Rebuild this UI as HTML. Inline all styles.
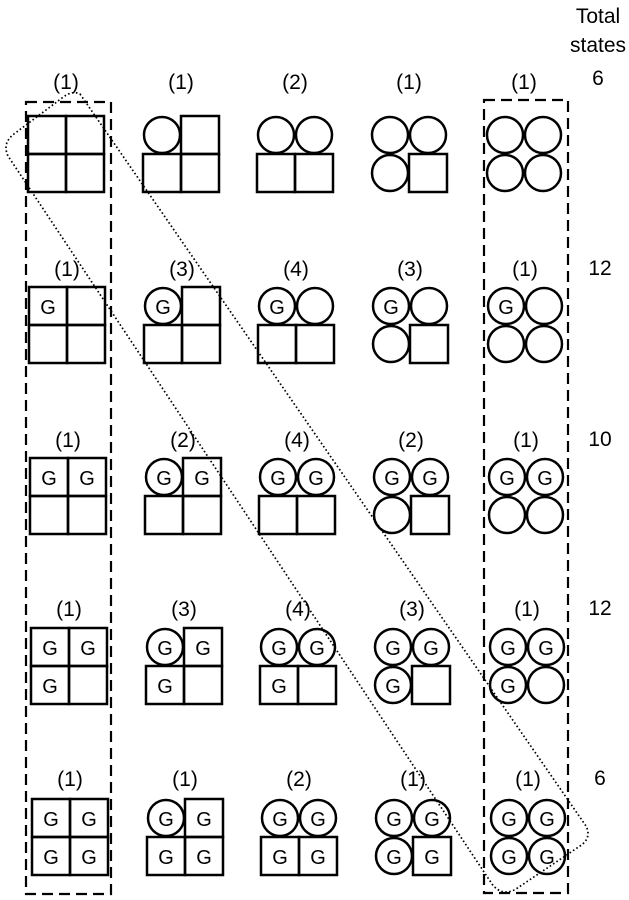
<!DOCTYPE html>
<html><head><meta charset="utf-8"><style>
html,body{margin:0;padding:0;background:#fff;}
svg{display:block;}
text{font-family:"Liberation Sans",Arial,sans-serif;fill:#000;}
</style></head><body>
<svg width="629" height="900" viewBox="0 0 629 900" xmlns="http://www.w3.org/2000/svg">
<defs>
<rect id="s" x="0" y="0" width="38" height="38" fill="none" stroke="#000" stroke-width="2.5"/>
<circle id="c" cx="19" cy="19" r="18" fill="none" stroke="#000" stroke-width="2.5"/>
</defs>
<g font-size="21" text-anchor="middle">
<text x="598" y="23">Total</text>
<text x="598" y="52">states</text>
<text x="598" y="85">6</text>
<text x="600" y="275">12</text>
<text x="600" y="446">10</text>
<text x="600" y="615">12</text>
<text x="600" y="785">6</text>
</g>
<g font-size="21" text-anchor="middle">
<text x="66" y="89">(1)</text><text x="181" y="89">(1)</text><text x="295" y="89">(2)</text><text x="409" y="89">(1)</text><text x="524" y="89">(1)</text>
<text x="67" y="276">(1)</text><text x="182" y="276">(3)</text><text x="296" y="276">(4)</text><text x="410" y="276">(3)</text><text x="525" y="276">(1)</text>
<text x="68" y="447">(1)</text><text x="183" y="447">(2)</text><text x="297" y="447">(4)</text><text x="411" y="447">(2)</text><text x="526" y="447">(1)</text>
<text x="69" y="616">(1)</text><text x="184" y="616">(3)</text><text x="298" y="616">(4)</text><text x="412" y="616">(3)</text><text x="527" y="616">(1)</text>
<text x="70" y="786">(1)</text><text x="185" y="786">(1)</text><text x="299" y="786">(2)</text><text x="413" y="786">(1)</text><text x="528" y="786">(1)</text>
</g>
<use href="#s" x="28" y="116"/><use href="#s" x="66" y="116"/><use href="#s" x="28" y="154"/><use href="#s" x="66" y="154"/>
<use href="#c" x="143" y="116"/><use href="#s" x="181" y="116"/><use href="#s" x="143" y="154"/><use href="#s" x="181" y="154"/>
<use href="#c" x="257" y="116"/><use href="#c" x="295" y="116"/><use href="#s" x="257" y="154"/><use href="#s" x="295" y="154"/>
<use href="#c" x="371" y="116"/><use href="#c" x="409" y="116"/><use href="#c" x="371" y="154"/><use href="#s" x="409" y="154"/>
<use href="#c" x="486" y="116"/><use href="#c" x="524" y="116"/><use href="#c" x="486" y="154"/><use href="#c" x="524" y="154"/>
<use href="#s" x="29" y="287"/><use href="#s" x="67" y="287"/><use href="#s" x="29" y="325"/><use href="#s" x="67" y="325"/>
<use href="#c" x="144" y="287"/><use href="#s" x="182" y="287"/><use href="#s" x="144" y="325"/><use href="#s" x="182" y="325"/>
<use href="#c" x="258" y="287"/><use href="#c" x="296" y="287"/><use href="#s" x="258" y="325"/><use href="#s" x="296" y="325"/>
<use href="#c" x="372" y="287"/><use href="#c" x="410" y="287"/><use href="#c" x="372" y="325"/><use href="#s" x="410" y="325"/>
<use href="#c" x="487" y="287"/><use href="#c" x="525" y="287"/><use href="#c" x="487" y="325"/><use href="#c" x="525" y="325"/>
<use href="#s" x="30" y="458"/><use href="#s" x="68" y="458"/><use href="#s" x="30" y="496"/><use href="#s" x="68" y="496"/>
<use href="#c" x="145" y="458"/><use href="#s" x="183" y="458"/><use href="#s" x="145" y="496"/><use href="#s" x="183" y="496"/>
<use href="#c" x="259" y="458"/><use href="#c" x="297" y="458"/><use href="#s" x="259" y="496"/><use href="#s" x="297" y="496"/>
<use href="#c" x="373" y="458"/><use href="#c" x="411" y="458"/><use href="#c" x="373" y="496"/><use href="#s" x="411" y="496"/>
<use href="#c" x="488" y="458"/><use href="#c" x="526" y="458"/><use href="#c" x="488" y="496"/><use href="#c" x="526" y="496"/>
<use href="#s" x="31" y="628"/><use href="#s" x="69" y="628"/><use href="#s" x="31" y="666"/><use href="#s" x="69" y="666"/>
<use href="#c" x="146" y="628"/><use href="#s" x="184" y="628"/><use href="#s" x="146" y="666"/><use href="#s" x="184" y="666"/>
<use href="#c" x="260" y="628"/><use href="#c" x="298" y="628"/><use href="#s" x="260" y="666"/><use href="#s" x="298" y="666"/>
<use href="#c" x="374" y="628"/><use href="#c" x="412" y="628"/><use href="#c" x="374" y="666"/><use href="#s" x="412" y="666"/>
<use href="#c" x="489" y="628"/><use href="#c" x="527" y="628"/><use href="#c" x="489" y="666"/><use href="#c" x="527" y="666"/>
<use href="#s" x="32" y="799"/><use href="#s" x="70" y="799"/><use href="#s" x="32" y="837"/><use href="#s" x="70" y="837"/>
<use href="#c" x="147" y="799"/><use href="#s" x="185" y="799"/><use href="#s" x="147" y="837"/><use href="#s" x="185" y="837"/>
<use href="#c" x="261" y="799"/><use href="#c" x="299" y="799"/><use href="#s" x="261" y="837"/><use href="#s" x="299" y="837"/>
<use href="#c" x="375" y="799"/><use href="#c" x="413" y="799"/><use href="#c" x="375" y="837"/><use href="#s" x="413" y="837"/>
<use href="#c" x="490" y="799"/><use href="#c" x="528" y="799"/><use href="#c" x="490" y="837"/><use href="#c" x="528" y="837"/>
<g font-size="20" text-anchor="middle">
<text x="48" y="314">G</text><text x="163" y="314">G</text><text x="277" y="314">G</text><text x="391" y="314">G</text><text x="506" y="314">G</text>
<text x="49" y="485">G</text><text x="87" y="485">G</text>
<text x="164" y="485">G</text><text x="202" y="485">G</text>
<text x="278" y="485">G</text><text x="316" y="485">G</text>
<text x="392" y="485">G</text><text x="430" y="485">G</text>
<text x="507" y="485">G</text><text x="545" y="485">G</text>
<text x="50" y="655">G</text><text x="88" y="655">G</text><text x="50" y="693">G</text>
<text x="165" y="655">G</text><text x="203" y="655">G</text><text x="165" y="693">G</text>
<text x="279" y="655">G</text><text x="317" y="655">G</text><text x="279" y="693">G</text>
<text x="393" y="655">G</text><text x="431" y="655">G</text><text x="393" y="693">G</text>
<text x="508" y="655">G</text><text x="546" y="655">G</text><text x="508" y="693">G</text>
<text x="51" y="826">G</text><text x="89" y="826">G</text><text x="51" y="864">G</text><text x="89" y="864">G</text>
<text x="166" y="826">G</text><text x="204" y="826">G</text><text x="166" y="864">G</text><text x="204" y="864">G</text>
<text x="280" y="826">G</text><text x="318" y="826">G</text><text x="280" y="864">G</text><text x="318" y="864">G</text>
<text x="394" y="826">G</text><text x="432" y="826">G</text><text x="394" y="864">G</text><text x="432" y="864">G</text>
<text x="509" y="826">G</text><text x="547" y="826">G</text><text x="509" y="864">G</text><text x="547" y="864">G</text>
</g>
<rect x="26" y="102" width="85" height="792" fill="none" stroke="#000" stroke-width="2.2" stroke-dasharray="11,6"/>
<rect x="484" y="100" width="84" height="793" fill="none" stroke="#000" stroke-width="2.2" stroke-dasharray="11,6"/>
<path d="M80 94 L586 826 Q592 838 580 846 L516 889 Q502 897 492 884 L8 156 Q2 143 14 134 L62 98 Q72 90 80 94 Z" fill="none" stroke="#000" stroke-width="1.7" stroke-dasharray="1.6,2.4"/>
</svg>
</body></html>
